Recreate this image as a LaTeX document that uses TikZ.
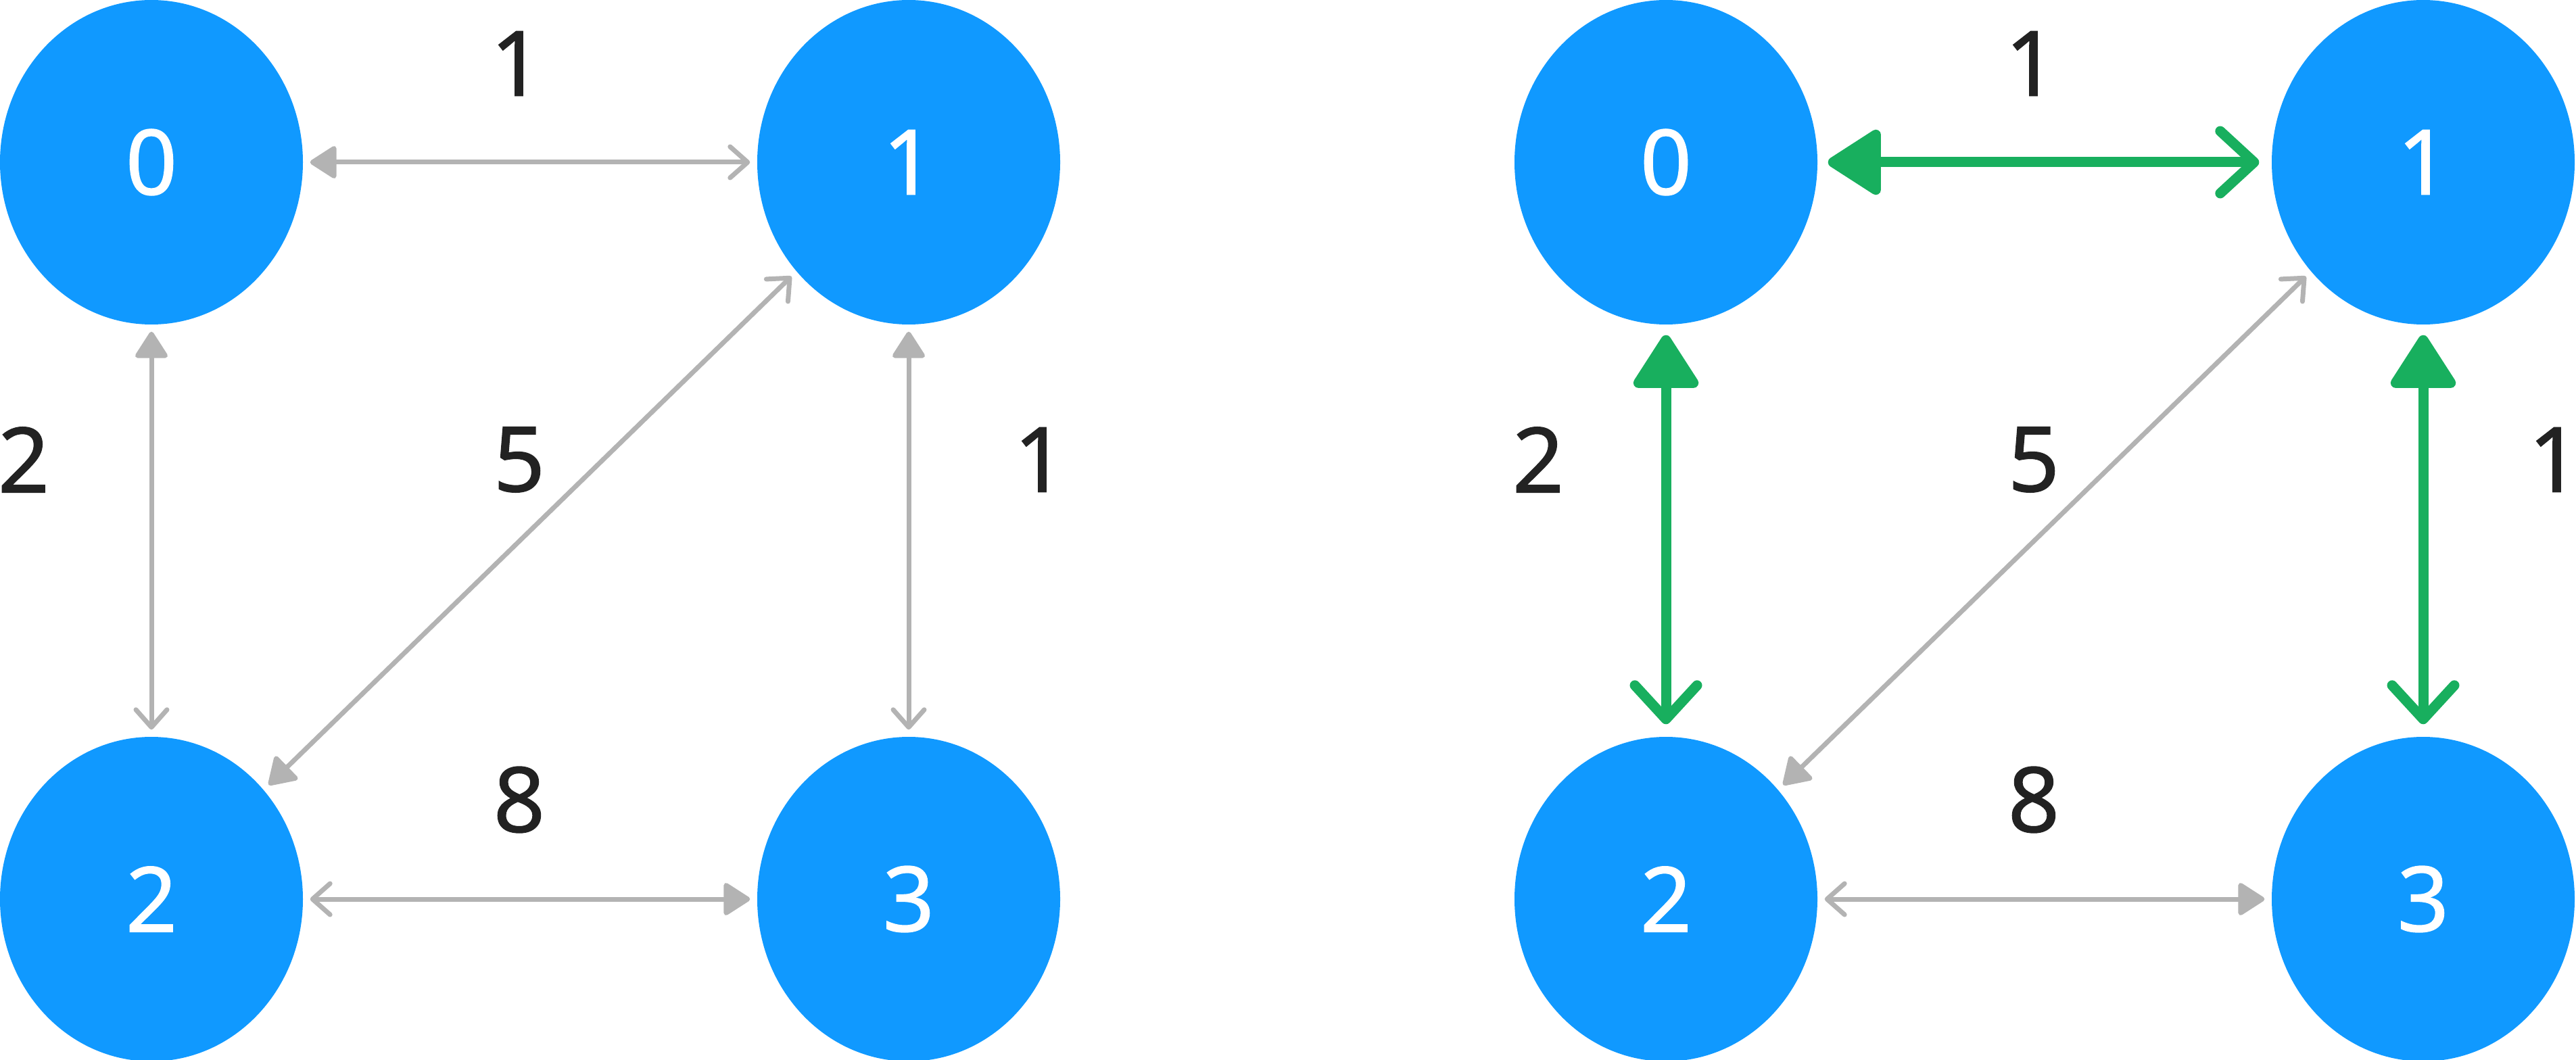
\documentclass[tikz,border=0pt]{standalone}
\usepackage{fontspec}
\setmainfont{Noto Sans}
\newfontfamily\digitfont{Noto Sans}[FakeBold=1]
\usetikzlibrary{shapes.geometric,arrows.meta}
\definecolor{nodeblue}{HTML}{1099FF}
\definecolor{pathgreen}{HTML}{18AF5E}
\definecolor{edgegray}{HTML}{B3B3B3}
\definecolor{labelink}{HTML}{222222}
\begin{document}
\begin{tikzpicture}[
  vertex/.style={ellipse, fill=nodeblue, minimum width=4.48cm, minimum height=4.8cm, inner sep=0pt,
    text=white, font=\digitfont\fontsize{38}{40}\selectfont},
  weight/.style={text=labelink, font=\digitfont\fontsize{38}{40}\selectfont},
  edge/.style={draw=edgegray, line width=0.07cm,
    arrows={Triangle[length=0.42cm,width=0.52cm,round]-Straight Barb[length=0.26cm,width=0.46cm,round]},
    shorten <=0.1cm, shorten >=0.1cm},
  tree/.style={draw=pathgreen, line width=0.15cm,
    arrows={Triangle[length=0.85cm,width=1.05cm,round]-Straight Barb[length=0.5cm,width=0.92cm,round]},
    shorten <=0.15cm, shorten >=0.18cm}
]
\useasboundingbox (0,0) rectangle (38.1,-15.68);
\foreach \g/\dx in {a/0,b/22.4} {
  \node[vertex] (\g0) at (\dx+2.24,-2.4) {0};
  \node[vertex] (\g1) at (\dx+13.44,-2.4) {1};
  \node[vertex] (\g2) at (\dx+2.24,-13.3) {2};
  \node[vertex] (\g3) at (\dx+13.44,-13.3) {3};
  \node[weight] (\g w01) at (\dx+7.64,-0.94) {1};
  \node[weight] (\g w02) at (\dx+0.35,-6.8) {2};
  \node[weight] (\g w12) at (\dx+7.68,-6.8) {5};
  \node[weight] (\g w13) at (\dx+15.38,-6.8) {1};
  \node[weight] (\g w23) at (\dx+7.68,-11.83) {8};
  % edges not in the tree
  \draw[edge] (\g2) -- (\g1);
  \draw[edge] (\g3) -- (\g2);
}
% left graph: all edges
\draw[edge] (a0) -- (a1);
\draw[edge] (a0) -- (a2);
\draw[edge] (a1) -- (a3);
% right graph: chosen edges
\draw[tree] (b0) -- (b1);
\draw[tree] (b0) -- (b2);
\draw[tree] (b1) -- (b3);
\end{tikzpicture}
\end{document}
